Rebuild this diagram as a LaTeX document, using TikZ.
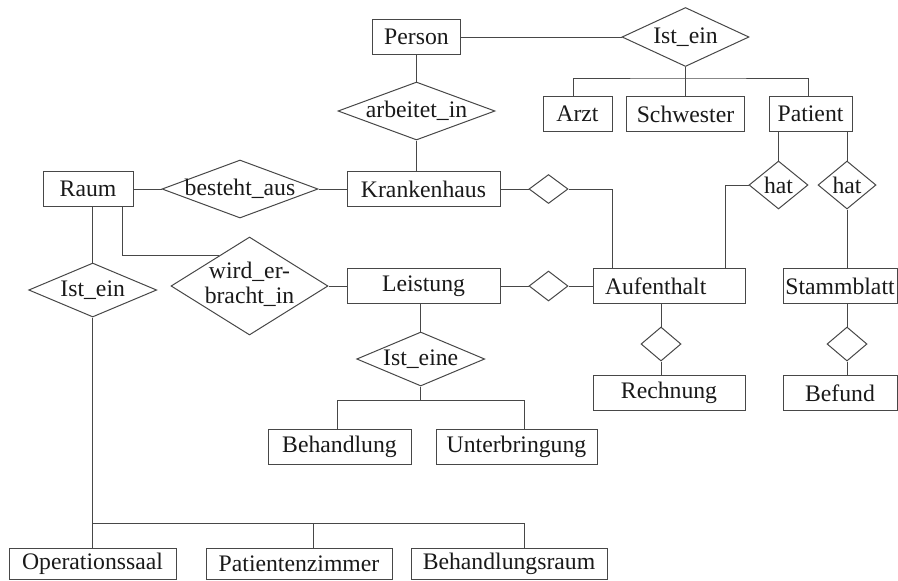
\documentclass[tikz,border=0pt]{standalone}
\usepackage{fontspec}
\setmainfont{Liberation Serif}
\usetikzlibrary{shapes.geometric,calc}
\tikzset{
  ent/.style={draw,rectangle,inner sep=0pt,minimum height=17.25pt},
  rel/.style={draw,diamond,inner sep=0pt,aspect=1},
}
\newcommand{\dtext}[1]{\makebox[0pt]{#1}}
\begin{document}
\begin{tikzpicture}[x=0.5pt,y=-0.5pt,line width=0.5pt,color=black!72,every node/.style={font=\fontsize{11.85}{12.5}\selectfont,text=black!90}]
\useasboundingbox (0,0) rectangle (898,580);
% entities
\node[ent,minimum width=44pt] (person) at (416.5,37) {Person};
\node[ent,minimum width=34.5pt] (arzt) at (577.5,114) {Arzt};
\node[ent,minimum width=59pt] (schwester) at (685.5,114) {Schwester};
\node[ent,minimum width=41.5pt] (patient) at (810.5,114) {Patient};
\node[ent,minimum width=45pt] (raum) at (88,189) {Raum};
\node[ent,minimum width=76.5pt] (kh) at (423.5,189) {Krankenhaus};
\node[ent,minimum width=76.5pt] (leistung) at (423.5,286) {Leistung};
\node[ent,minimum width=76pt] (aufenthalt) at (669,286) {\makebox[76pt][l]{\hspace{6pt}Aufenthalt}};
\node[ent,minimum width=57pt] (stammblatt) at (840,286) {Stammblatt};
\node[ent,minimum width=76pt] (rechnung) at (669,393) {Rechnung};
\node[ent,minimum width=57pt] (befund) at (840,393) {Befund};
\node[ent,minimum width=71.5pt] (behandlung) at (339.5,447) {Behandlung};
\node[ent,minimum width=80.5pt] (unterbringung) at (516.5,447) {Unterbringung};
\node[ent,minimum width=83.5pt,minimum height=15.5pt] (opsaal) at (92.5,563.5) {Operationssaal};
\node[ent,minimum width=93pt,minimum height=15.5pt] (pzimmer) at (299,563.5) {Patientenzimmer};
\node[ent,minimum width=98pt,minimum height=15.5pt] (braum) at (509,563.5) {Behandlungsraum};
% relationships
\node[rel,minimum width=63.5pt,minimum height=29.5pt] (isp) at (685.5,37) {\dtext{Ist\_ein}};
\node[rel,minimum width=78.5pt,minimum height=29pt] (arb) at (416.5,111) {\dtext{arbeitet\_in}};
\node[rel,minimum width=78pt,minimum height=29pt] (best) at (240,189) {\dtext{besteht\_aus}};
\node[rel,minimum width=19.5pt,minimum height=14.5pt] (khd) at (548.5,189) {};
\node[rel,minimum width=29.5pt,minimum height=24pt] (hat1) at (778.5,185) {\dtext{hat}};
\node[rel,minimum width=29pt,minimum height=24pt] (hat2) at (847,185) {\dtext{hat}};
\node[rel,minimum width=78.5pt,minimum height=49pt] (wird) at (249.5,286) {\dtext{\begin{tabular}{@{}c@{}}wird\_er-\\bracht\_in\end{tabular}}};
\node[rel,minimum width=64pt,minimum height=27pt] (isr) at (92.7,290) {\dtext{Ist\_ein}};
\node[rel,minimum width=19.5pt,minimum height=15pt] (lad) at (548.5,286) {};
\node[rel,minimum width=64pt,minimum height=27pt] (ise) at (420.7,359) {\dtext{Ist\_eine}};
\node[rel,minimum width=20pt,minimum height=17pt] (red) at (661,344) {};
\node[rel,minimum width=20pt,minimum height=17pt] (bed) at (847,344) {};
% branch points
\coordinate (pbar) at (685.5,78);
\coordinate (ebar) at (420.7,400);
\coordinate (rbar) at (92.7,523);
\coordinate (wedge) at ($(wird.north)!0.39!(wird.west)$);
% connectors
\draw (person) -- (isp);
\draw (isp) -- (pbar);
\draw (arzt.north -| 573,0) |- (pbar) -| (patient.north -| 808,0);
\draw (pbar) -- (schwester);
\draw (person) -- (arb) -- (kh.north -| arb);
\draw (raum) -- (best) -- (kh);
\draw (kh) -- (khd) -| (aufenthalt.north -| 612,0);
\draw (raum.south -| isr) -- (isr);
\draw (raum.south -| 122.7,0) |- (wedge);
\draw (wird) -- (leistung);
\draw (leistung) -- (lad) -- (aufenthalt);
\draw (leistung.south -| ise) -- (ise);
\draw (ise) -- (ebar);
\draw (behandlung.north -| 337,0) |- (ebar) -| (unterbringung.north -| 524,0);
\draw (isr) -- (rbar);
\draw (opsaal.north -| rbar) -- (rbar) -| (braum.north -| 524,0);
\draw (rbar -| 313,0) -- (pzimmer.north -| 313,0);
\draw (patient.south -| hat1) -- (hat1);
\draw (patient.south -| hat2) -- (hat2);
\draw (hat1) -| (aufenthalt.north -| 725,0);
\draw (hat2) -- (stammblatt.north -| hat2);
\draw (aufenthalt.south -| red) -- (red) -- (rechnung.north -| red);
\draw (stammblatt.south -| bed) -- (bed) -- (befund.north -| bed);
\end{tikzpicture}
\end{document}
